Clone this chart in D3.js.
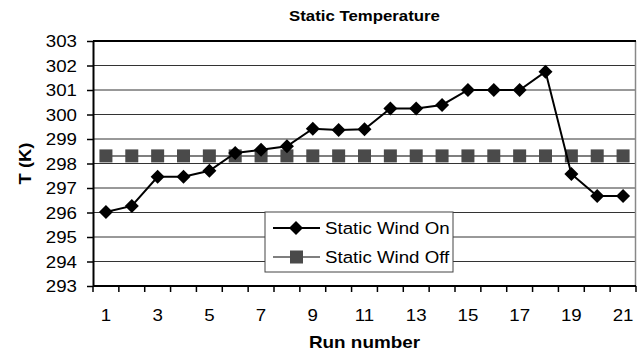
<!DOCTYPE html>
<html>
<head>
<meta charset="utf-8">
<script src="https://cdn.jsdelivr.net/npm/d3@7"></script>
<style>
  body { margin: 0; background: #fff; }
  svg { display: block; font-family: "Liberation Sans", Arial, sans-serif; }
</style>
</head>
<body>
<svg id="chart" width="637" height="356"></svg>
<script>
const runs = d3.range(1, 22);
const windOn = [296.02, 296.27, 297.46, 297.46, 297.7, 298.43, 298.56, 298.7, 299.42, 299.37, 299.4,
  300.25, 300.25, 300.39, 301.0, 301.0, 301.0, 301.75, 297.57, 296.67, 296.67];
const windOff = [298.31, 298.31, 298.31, 298.31, 298.31, 298.31, 298.31, 298.31, 298.31, 298.31, 298.31,
  298.31, 298.31, 298.31, 298.31, 298.31, 298.31, 298.31, 298.31, 298.31, 298.31];
const yTicks = [293, 294, 295, 296, 297, 298, 299, 300, 301, 302, 303];
const xLabels = [1, 3, 5, 7, 9, 11, 13, 15, 17, 19, 21];

const svg = d3.select("#chart");
const margin = { top: 41, right: 1, bottom: 70, left: 93 };
const width = 637, height = 356;
const sx = 1.1; // the source picture is stretched sideways

const x = d3.scaleBand()
  .domain(runs)
  .range([margin.left, width - margin.right]);

const y = d3.scaleLinear()
  .domain([293, 303])
  .range([height - margin.bottom, margin.top]);

// text helper: places text with a horizontal stretch
function label(g, tx, ty, str, size, anchor, bold, k) {
  return g.append("text")
    .attr("transform", `translate(${tx},${ty}) scale(${k || sx},1)`)
    .attr("text-anchor", anchor || "start")
    .attr("font-size", size)
    .attr("font-weight", bold ? "bold" : "normal")
    .attr("fill", "#000")
    .text(str);
}

// gridlines
svg.append("g")
  .selectAll("line")
  .data(yTicks.slice(1))
  .join("line")
  .attr("x1", margin.left)
  .attr("x2", width - margin.right)
  .attr("y1", d => y(d))
  .attr("y2", d => y(d))
  .attr("stroke", "#333")
  .attr("stroke-width", 1);

// plot frame (right side grey)
svg.append("line")
  .attr("x1", width - 1.5).attr("x2", width - 1.5)
  .attr("y1", margin.top).attr("y2", y(293))
  .attr("stroke", "#888").attr("stroke-width", 1.5);
svg.append("line")
  .attr("x1", margin.left).attr("x2", width - margin.right)
  .attr("y1", margin.top).attr("y2", margin.top)
  .attr("stroke", "#000").attr("stroke-width", 2);

// y axis
const yAxis = svg.append("g")
  .attr("transform", `translate(${margin.left},0)`)
  .call(d3.axisLeft(y).tickValues(yTicks).tickFormat("").tickSize(6).tickSizeOuter(0));
yAxis.select(".domain").attr("stroke-width", 2);
yAxis.selectAll(".tick line").attr("stroke-width", 1.5);
yTicks.forEach(t => label(svg, 77, y(t) + 6, t, 17, "end"));

// x axis: ticks at band boundaries
const xAxisG = svg.append("g")
  .attr("transform", `translate(0,${y(293)})`);
xAxisG.append("line")
  .attr("x1", margin.left).attr("x2", width - margin.right)
  .attr("stroke", "#000").attr("stroke-width", 2);
xAxisG.selectAll(".xt")
  .data(runs.concat([22]))
  .join("line")
  .attr("class", "xt")
  .attr("x1", d => d === 22 ? x(21) + x.bandwidth() : x(d))
  .attr("x2", d => d === 22 ? x(21) + x.bandwidth() : x(d))
  .attr("y1", 0).attr("y2", 6)
  .attr("stroke", "#000").attr("stroke-width", 1.5);
xLabels.forEach(d => label(xAxisG, x(d) + x.bandwidth() / 2, 35, d, 17, "middle"));

const cx = (d, i) => x(runs[i]) + x.bandwidth() / 2;

// wind off series
svg.append("path")
  .datum(windOff)
  .attr("fill", "none")
  .attr("stroke", "#7f7f7f")
  .attr("stroke-width", 2)
  .attr("d", d3.line().x(cx).y(d => y(d)));
svg.append("g")
  .selectAll("rect")
  .data(windOff)
  .join("rect")
  .attr("x", (d, i) => cx(d, i) - 6.5)
  .attr("y", d => y(d) - 6.5)
  .attr("width", 13)
  .attr("height", 13)
  .attr("fill", "#4a4a4a");

// wind on series
svg.append("path")
  .datum(windOn)
  .attr("fill", "none")
  .attr("stroke", "#000")
  .attr("stroke-width", 2)
  .attr("d", d3.line().x(cx).y(d => y(d)));
const diamond = s => `M0,${-s}L${s},0L0,${s}L${-s},0Z`;
svg.append("g")
  .selectAll("path")
  .data(windOn)
  .join("path")
  .attr("transform", (d, i) => `translate(${cx(d, i)},${y(d)})`)
  .attr("d", diamond(7))
  .attr("fill", "#000");

// legend
const legend = svg.append("g").attr("transform", "translate(265,212)");
legend.append("rect")
  .attr("width", 188).attr("height", 60)
  .attr("fill", "#fff").attr("stroke", "#444").attr("stroke-width", 1);
const le1 = legend.append("g").attr("transform", "translate(0,16)");
le1.append("line").attr("x1", 8).attr("x2", 55).attr("stroke", "#000").attr("stroke-width", 2);
le1.append("path").attr("transform", "translate(31,0)").attr("d", diamond(7)).attr("fill", "#000");
label(le1, 60, 6, "Static Wind On", 17);
const le2 = legend.append("g").attr("transform", "translate(0,45)");
le2.append("line").attr("x1", 8).attr("x2", 55).attr("stroke", "#7f7f7f").attr("stroke-width", 2);
le2.append("rect").attr("x", 25).attr("y", -6.5).attr("width", 13).attr("height", 13).attr("fill", "#4a4a4a");
label(le2, 60, 6, "Static Wind Off", 17);

// titles
label(svg, (margin.left + width - margin.right) / 2, 21, "Static Temperature", 14, "middle", true, 1.2);
label(svg, (margin.left + width - margin.right) / 2, 348, "Run number", 16, "middle", true, 1.18);
svg.append("text")
  .attr("transform", `translate(31,${(margin.top + y(293)) / 2}) rotate(-90) scale(1.15,1)`)
  .attr("text-anchor", "middle")
  .attr("font-size", 16)
  .attr("font-weight", "bold")
  .text("T (K)");
</script>
</body>
</html>
